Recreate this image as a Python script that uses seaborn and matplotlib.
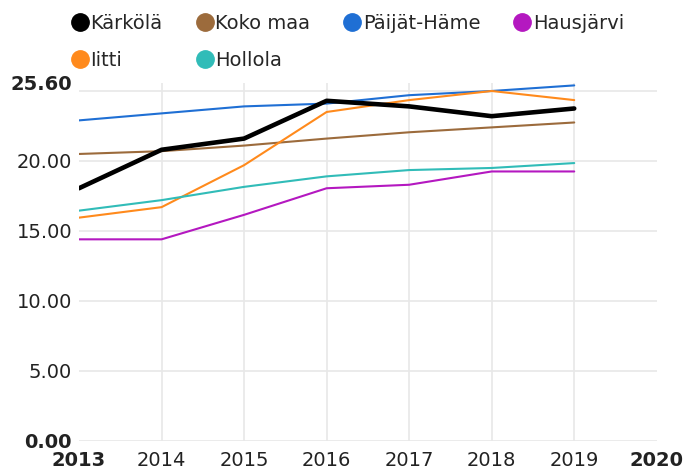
import matplotlib
matplotlib.use("Agg")
import matplotlib.pyplot as plt
from matplotlib.lines import Line2D
import seaborn as sns
import pandas as pd

years = [2013, 2014, 2015, 2016, 2017, 2018, 2019]
karkola = [18.05, 20.8, 21.6, 24.3, 23.9, 23.2, 23.75]
koko_maa = [20.5, 20.7, 21.1, 21.6, 22.05, 22.4, 22.75]
paijat_hame = [22.9, 23.4, 23.9, 24.1, 24.7, 25.0, 25.4]
hausjarvi = [14.4, 14.4, 16.15, 18.05, 18.3, 19.25, 19.25]
iitti = [15.95, 16.7, 19.7, 23.5, 24.35, 25.0, 24.35]
hollola = [16.45, 17.2, 18.15, 18.9, 19.35, 19.5, 19.85]

names = ["Kärkölä", "Koko maa", "Päijät-Häme", "Hausjärvi", "Iitti", "Hollola"]
colors = {"Kärkölä": "#000000", "Koko maa": "#9c6b3c", "Päijät-Häme": "#1f6fd4",
          "Hausjärvi": "#b418c0", "Iitti": "#ff8a1c", "Hollola": "#31bcb8"}
widths = {"Kärkölä": 3.3, "Koko maa": 1.5, "Päijät-Häme": 1.5,
          "Hausjärvi": 1.5, "Iitti": 1.5, "Hollola": 1.5}

y_ticks = [0, 5, 10, 15, 20, 25]
y_labels = ["0.00", "5.00", "10.00", "15.00", "20.00", ""]
y_max = 25.6
x_ticks = [2013, 2014, 2015, 2016, 2017, 2018, 2019, 2020]


def build_frame():  # long-form table for seaborn
    series = [karkola, koko_maa, paijat_hame, hausjarvi, iitti, hollola]
    rows = []
    for name, vals in zip(names, series):
        for yr, v in zip(years, vals):
            rows.append({"year": yr, "value": v, "area": name})
    return pd.DataFrame(rows)


def main():
    sns.set_theme(style="white")
    plt.rcParams['font.family'] = ['DejaVu Sans']
    df = build_frame()

    fig = plt.figure(figsize=(6.87, 4.72), dpi=100)
    ax = fig.add_axes([0.115, 0.066, 0.841, 0.759])

    # draw Kärkölä last so it sits on top
    for name in ["Koko maa", "Päijät-Häme", "Hausjärvi", "Iitti", "Hollola", "Kärkölä"]:
        sub = df[df["area"] == name]
        sns.lineplot(data=sub, x="year", y="value", color=colors[name],
                     linewidth=widths[name], ax=ax, legend=False)

    ax.set_xlim(2013, 2020)
    ax.set_ylim(0, y_max)
    ax.set_xlabel("")
    ax.set_ylabel("")
    for s in ax.spines.values():
        s.set_visible(False)

    ax.set_yticks(y_ticks)
    ax.set_yticklabels(y_labels, fontsize=14, color="#222222")
    ax.set_yticks([y_max], minor=True)
    ax.set_yticklabels(["25.60"], minor=True, fontsize=14, fontweight="bold", color="#222222")
    ax.get_yticklabels()[0].set_fontweight("bold")
    ax.tick_params(axis="y", which="both", length=0, pad=5)

    ax.set_xticks(x_ticks)
    ax.set_xticklabels([str(x) for x in x_ticks], fontsize=14, color="#222222")
    xl = ax.get_xticklabels()
    xl[0].set_fontweight("bold")
    xl[-1].set_fontweight("bold")
    ax.tick_params(axis="x", length=0, pad=7)

    ax.grid(True, which="major", color="#e8e8e8", linewidth=1.2)
    ax.set_axisbelow(True)
    xg = ax.get_xgridlines()
    xg[0].set_visible(False)
    xg[-1].set_visible(False)

    order = ["Kärkölä", "Iitti", "Koko maa", "Hollola", "Päijät-Häme", "Hausjärvi"]
    handles = [Line2D([], [], linestyle="none", marker="o", markersize=12.5,
                      color=colors[n]) for n in order]
    fig.legend(handles, order, loc="upper left", bbox_to_anchor=(0.088, 0.995),
               ncol=4, frameon=False, fontsize=14, handlelength=0.8,
               handletextpad=0.15, columnspacing=1.75, labelspacing=0.9,
               borderaxespad=0.2)

    fig.savefig("out.png", dpi=100)


if __name__ == "__main__":
    main()
